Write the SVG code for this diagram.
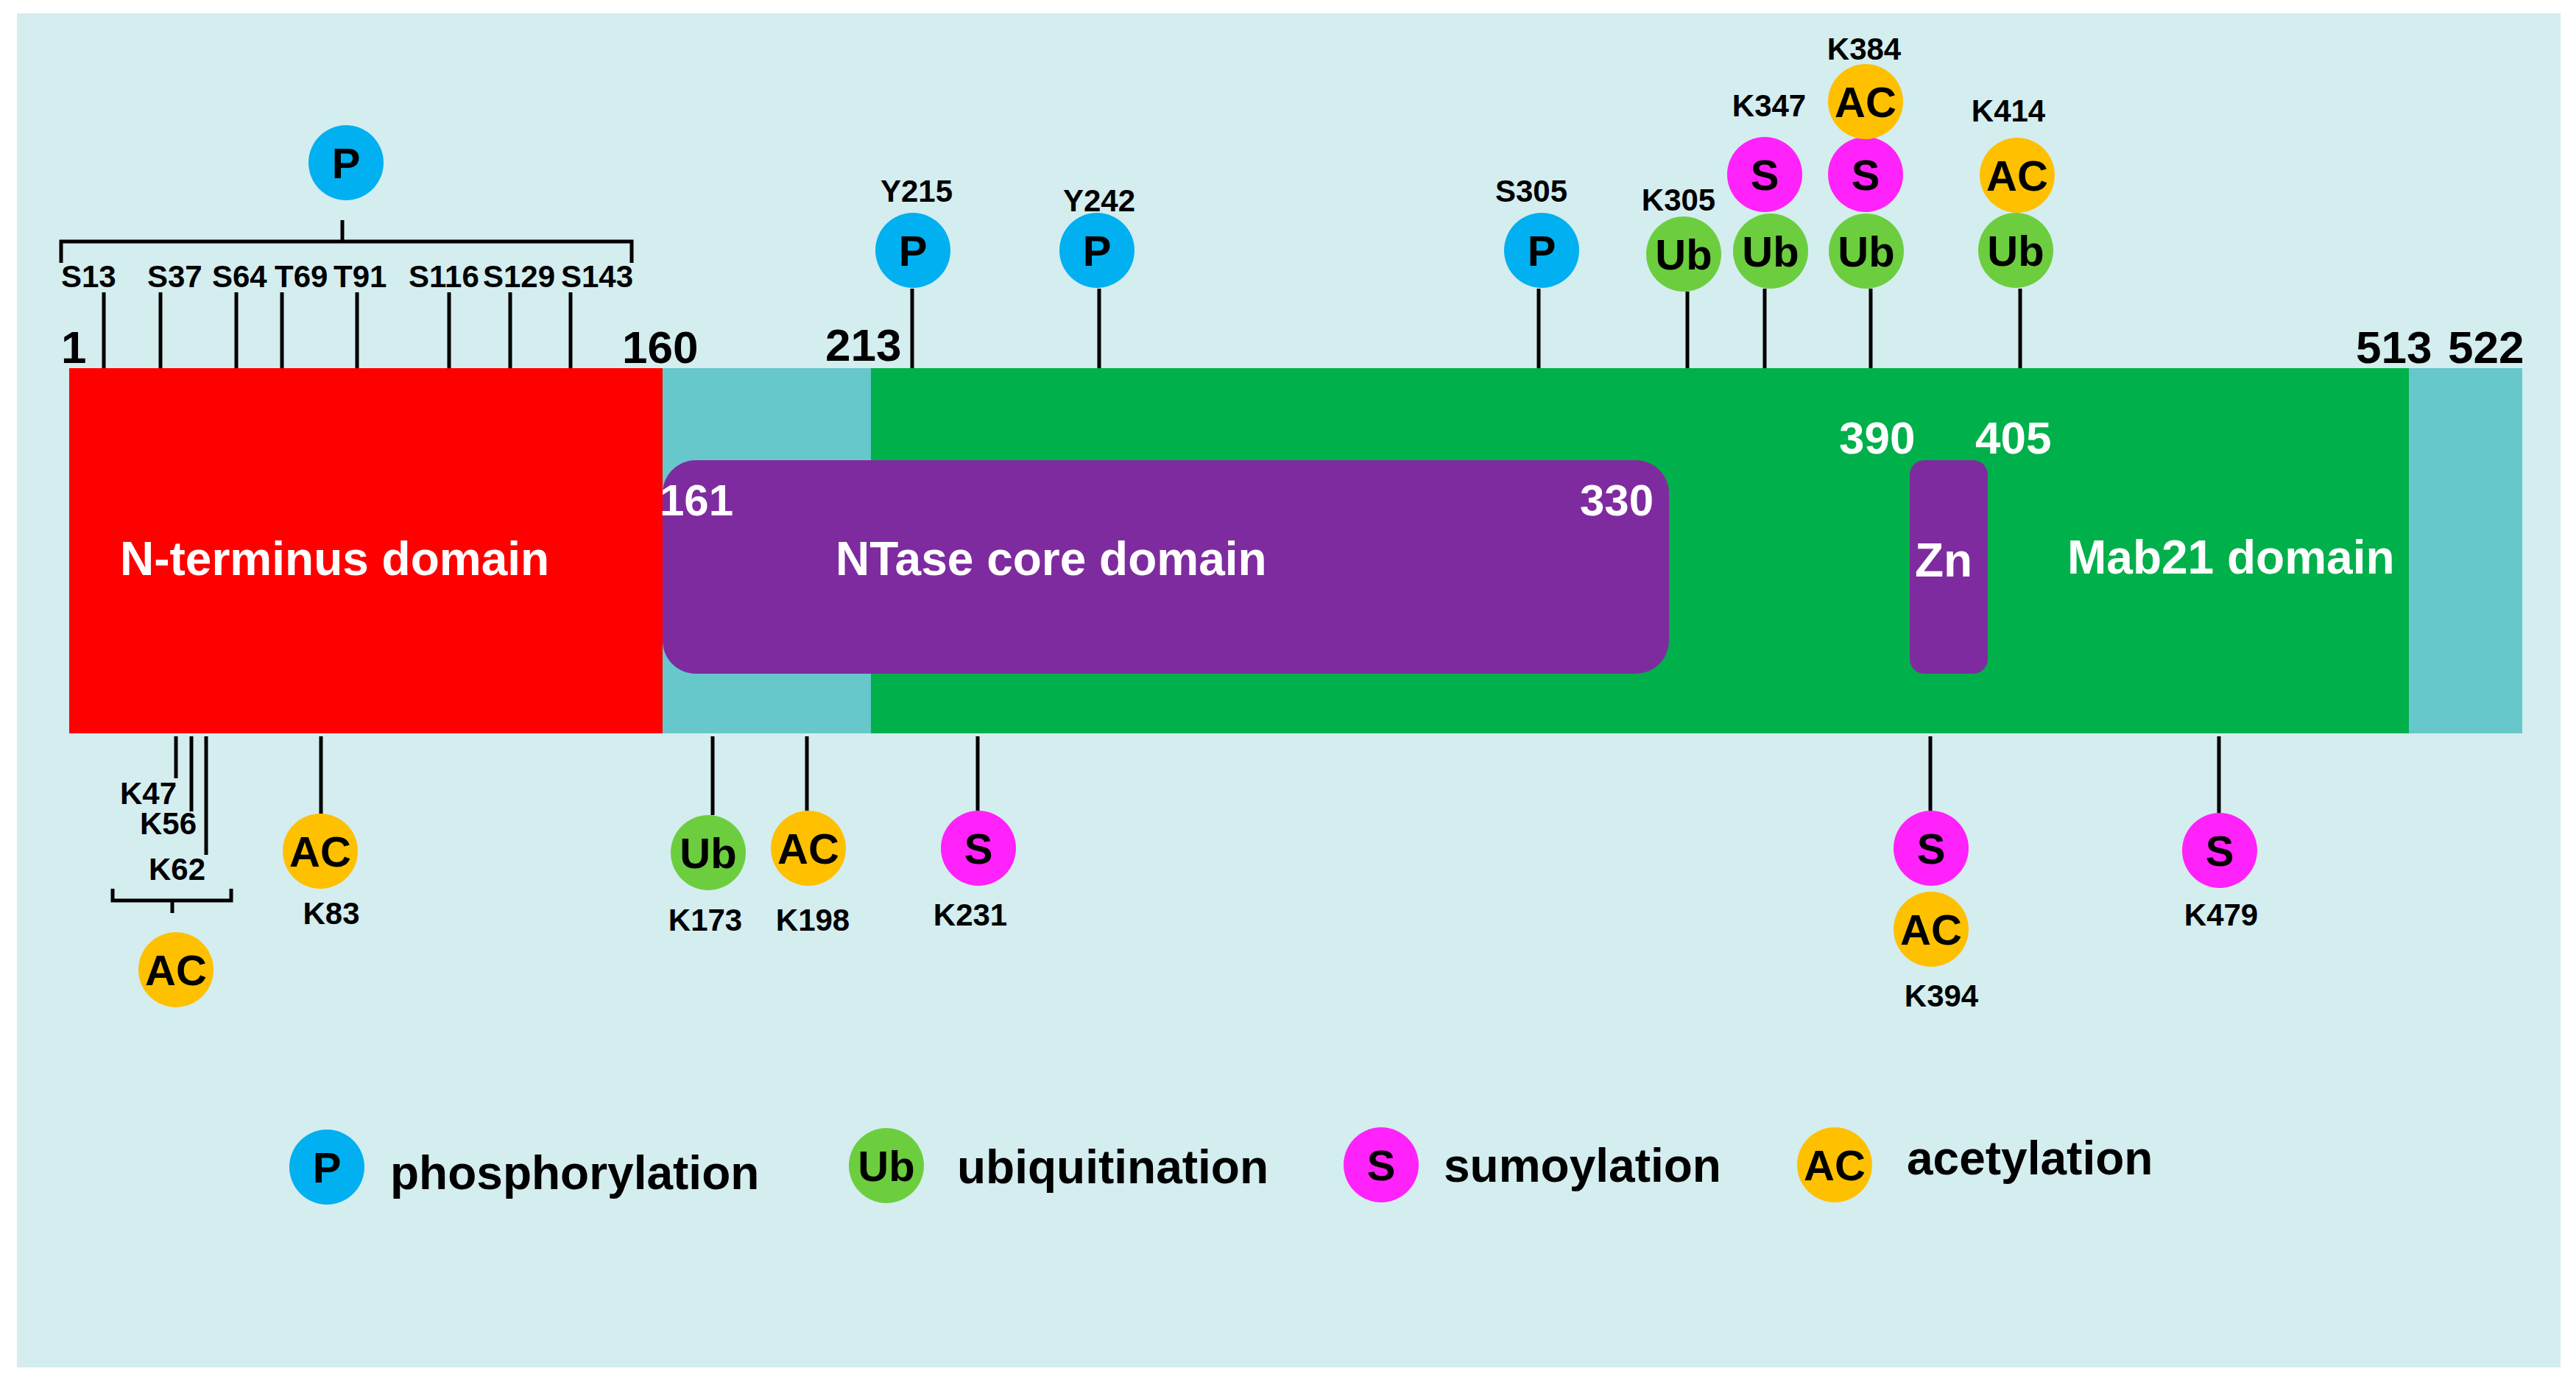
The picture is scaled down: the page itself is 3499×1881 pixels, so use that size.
<svg xmlns="http://www.w3.org/2000/svg" width="3499" height="1881" viewBox="0 0 3499 1881">
<style>
text{font-family:"Liberation Sans",Arial,sans-serif;font-weight:bold}
.lbl{font-size:42px;fill:#000}
.num{font-size:62px;fill:#000}
.wnum{font-size:60px;fill:#fff}
.dom{font-size:64px;fill:#fff}
.leg{font-size:64px;fill:#000}
.ct{font-size:58px;fill:#000;text-anchor:middle}
.mid{text-anchor:middle}
.end{text-anchor:end}
.p{fill:#00B0F0}
.ub{fill:#6CCE3E}
.s{fill:#FF22FA}
.ac{fill:#FFC000}
.ln{stroke:#000;stroke-width:5;fill:none}
</style>
<rect x="0" y="0" width="3499" height="1881" fill="#fff"/>
<rect x="23" y="18" width="3455" height="1839" fill="#D4EDEF"/>

<g id="protein-bar">
<rect x="94" y="500" width="806" height="496" fill="#FF0000"/>
<rect x="900" y="500" width="283" height="496" fill="#66C8CA"/>
<rect x="1183" y="500" width="2089" height="496" fill="#00B04A"/>
<rect x="3272" y="500" width="154" height="496" fill="#66C8CA"/>
</g>
<g id="ntase-domain">
<rect x="900" y="625" width="1367" height="290" rx="45" ry="45" fill="#7F2BA0"/>
<text class="wnum" x="896" y="700">161</text>
<text class="wnum end" x="2246" y="700">330</text>
<text class="dom" x="1135" y="781">NTase core domain</text>
</g>
<g id="zn-domain">
<rect x="2594" y="625" width="106" height="290" rx="20" ry="20" fill="#7F2BA0"/>
<text class="dom" x="2601" y="783">Zn</text>
<text class="num" x="2498" y="616" style="fill:#fff">390</text>
<text class="num" x="2683" y="616" style="fill:#fff">405</text>
</g>
<g id="domain-labels">
<text class="dom" x="163" y="781">N-terminus domain</text>
<text class="dom" x="2808" y="779">Mab21 domain</text>
</g>
<g id="positions">
<text class="num" x="83" y="493">1</text>
<text class="num" x="845" y="493">160</text>
<text class="num" x="1121" y="490">213</text>
<text class="num" x="3200" y="493">513</text>
<text class="num" x="3325" y="493">522</text>
</g>

<g id="connectors">
<path class="ln" d="M83,357 V328 H858 V357 M465,299 V328"/>
<path class="ln" d="M141,397 V500 M218,397 V500 M321,397 V500 M383,397 V500 M485,397 V500 M610,397 V500 M693,397 V500 M775,397 V500"/>
<path class="ln" d="M1239,392 V500 M1493,392 V500 M2090,392 V500 M2292,396 V500 M2397,392 V500 M2541,392 V500 M2744,392 V500"/>
<path class="ln" d="M239,1000 V1057 M260,1000 V1102 M280,1000 V1161 M153,1207 V1223 H314 V1207 M234,1223 V1240"/>
<path class="ln" d="M436,1000 V1105 M968,1000 V1107 M1096,1000 V1101 M1328,1000 V1101 M2622,1000 V1101 M3014,1000 V1104"/>
</g>

<g id="ptm-nterm-p">
<circle class="p" cx="470" cy="221" r="51"/><text class="ct" x="470" y="242">P</text>
<text class="lbl" x="83" y="390">S13</text>
<text class="lbl" x="200" y="390">S37</text>
<text class="lbl" x="288" y="390">S64</text>
<text class="lbl" x="373" y="390">T69</text>
<text class="lbl" x="453" y="390">T91</text>
<text class="lbl" x="555" y="390">S116</text>
<text class="lbl" x="656" y="390">S129</text>
<text class="lbl" x="762" y="390">S143</text>
</g>
<g id="ptm-y215">
<circle class="p" cx="1240" cy="340" r="51"/><text class="ct" x="1240" y="361">P</text>
<text class="lbl mid" x="1245" y="274">Y215</text>
</g>
<g id="ptm-y242">
<circle class="p" cx="1490" cy="340" r="51"/><text class="ct" x="1490" y="361">P</text>
<text class="lbl mid" x="1493" y="287">Y242</text>
</g>
<g id="ptm-s305">
<circle class="p" cx="2094" cy="340" r="51"/><text class="ct" x="2094" y="361">P</text>
<text class="lbl mid" x="2080" y="274">S305</text>
</g>
<g id="ptm-k305">
<circle class="ub" cx="2287" cy="345" r="51"/><text class="ct" x="2287" y="366">Ub</text>
<text class="lbl mid" x="2280" y="286">K305</text>
</g>
<g id="ptm-k347">
<circle class="ub" cx="2405" cy="341" r="51"/><text class="ct" x="2405" y="362">Ub</text>
<circle class="s" cx="2397" cy="237" r="51"/><text class="ct" x="2397" y="258">S</text>
<text class="lbl mid" x="2403" y="158">K347</text>
</g>
<g id="ptm-k384">
<circle class="ub" cx="2535" cy="341" r="51"/><text class="ct" x="2535" y="362">Ub</text>
<circle class="s" cx="2534" cy="237" r="51"/><text class="ct" x="2534" y="258">S</text>
<circle class="ac" cx="2534" cy="138" r="51"/><text class="ct" x="2534" y="159">AC</text>
<text class="lbl mid" x="2532" y="81">K384</text>
</g>
<g id="ptm-k414">
<circle class="ub" cx="2738" cy="340" r="51"/><text class="ct" x="2738" y="361">Ub</text>
<circle class="ac" cx="2740" cy="238" r="51"/><text class="ct" x="2740" y="259">AC</text>
<text class="lbl mid" x="2728" y="165">K414</text>
</g>

<g id="ptm-k47-k56-k62">
<text class="lbl" x="163" y="1092">K47</text>
<text class="lbl" x="190" y="1133">K56</text>
<text class="lbl" x="202" y="1195">K62</text>
<circle class="ac" cx="239" cy="1317" r="51"/><text class="ct" x="239" y="1338">AC</text>
</g>
<g id="ptm-k83">
<circle class="ac" cx="435" cy="1156" r="51"/><text class="ct" x="435" y="1177">AC</text>
<text class="lbl mid" x="450" y="1255">K83</text>
</g>
<g id="ptm-k173">
<circle class="ub" cx="962" cy="1158" r="51"/><text class="ct" x="962" y="1179">Ub</text>
<text class="lbl mid" x="958" y="1264">K173</text>
</g>
<g id="ptm-k198">
<circle class="ac" cx="1098" cy="1152" r="51"/><text class="ct" x="1098" y="1173">AC</text>
<text class="lbl mid" x="1104" y="1264">K198</text>
</g>
<g id="ptm-k231">
<circle class="s" cx="1329" cy="1152" r="51"/><text class="ct" x="1329" y="1173">S</text>
<text class="lbl mid" x="1318" y="1257">K231</text>
</g>
<g id="ptm-k394">
<circle class="s" cx="2623" cy="1152" r="51"/><text class="ct" x="2623" y="1173">S</text>
<circle class="ac" cx="2623" cy="1262" r="51"/><text class="ct" x="2623" y="1283">AC</text>
<text class="lbl mid" x="2637" y="1367">K394</text>
</g>
<g id="ptm-k479">
<circle class="s" cx="3015" cy="1155" r="51"/><text class="ct" x="3015" y="1176">S</text>
<text class="lbl mid" x="3017" y="1257">K479</text>
</g>

<g id="legend-p">
<circle class="p" cx="444" cy="1585" r="51"/><text class="ct" x="444" y="1606">P</text>
<text class="leg" x="530" y="1615">phosphorylation</text>
</g>
<g id="legend-ub">
<circle class="ub" cx="1204" cy="1583" r="51"/><text class="ct" x="1204" y="1604">Ub</text>
<text class="leg" x="1300" y="1607">ubiquitination</text>
</g>
<g id="legend-s">
<circle class="s" cx="1876" cy="1582" r="51"/><text class="ct" x="1876" y="1603">S</text>
<text class="leg" x="1961" y="1605">sumoylation</text>
</g>
<g id="legend-ac">
<circle class="ac" cx="2492" cy="1582" r="51"/><text class="ct" x="2492" y="1603">AC</text>
<text class="leg" x="2590" y="1595">acetylation</text>
</g>
</svg>
